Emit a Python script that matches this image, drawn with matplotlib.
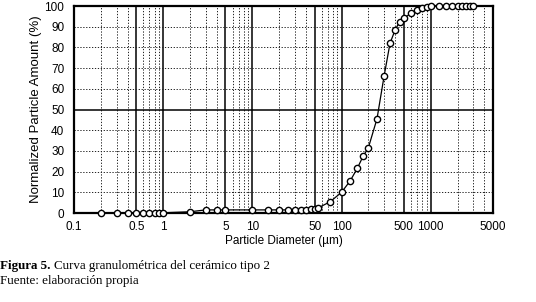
import matplotlib
matplotlib.use("Agg")
import matplotlib.pyplot as plt
import numpy as np

# Data
diameter_um = [0.2, 0.3, 0.4, 0.5, 0.6, 0.7, 0.8, 0.9, 1.0,
               2, 3, 4, 5, 10, 15, 20, 25, 30, 35, 40, 45, 50, 55,
               75, 100, 125, 150, 175, 200, 250, 300, 350, 400, 450, 500,
               600, 700, 800, 900, 1000, 1250, 1500, 1750, 2000, 2250,
               2500, 2750, 3000]
amount_pct = [0.1, 0.1, 0.1, 0.1, 0.1, 0.1, 0.1, 0.1, 0.1,
              0.6, 1.5, 1.5, 1.5, 1.5, 1.5, 1.5, 1.5, 1.5, 1.5, 1.6, 1.7, 2.0, 2.5,
              5.5, 10.0, 15.5, 21.5, 27.5, 31.5, 45.5, 66.0, 82.0, 88.5, 92.5, 94.0,
              96.5, 98.0, 99.0, 99.5, 99.8, 100.0, 100.0, 100.0, 100.0, 100.0,
              100.0, 100.0, 100.0]

x_tick_values = [0.1, 0.5, 1, 5, 10, 50, 100, 500, 1000, 5000]
x_tick_labels = ["0.1", "0.5", "1", "5", "10", "50", "100", "500", "1000", "5000"]
y_tick_values = list(range(0, 101, 10))

W, H = 536, 302
fig = plt.figure(figsize=(W / 100, H / 100), dpi=100)
L, R, T, B = 74, 493, 6, 213
ax = fig.add_axes([L / W, 1 - B / H, (R - L) / W, (B - T) / H])

ax.set_xscale("log")
ax.set_xlim(0.1, 5000)
ax.set_ylim(0, 100)

# grid: solid at 1/5 multiples, dotted at others
solid_x = [0.5, 1, 5, 10, 50, 100, 500, 1000]
dotted_x = []
for dec in [0.1, 1, 10, 100, 1000]:
    for m in [2, 3, 4, 6, 7, 8, 9]:
        v = m * dec
        if 0.1 < v < 5000:
            dotted_x.append(v)
dot_style = dict(color="#222222", lw=0.7, ls=(0, (1.3, 1.7)), zorder=1)
for v in solid_x:
    ax.axvline(v, color="black", lw=1.1, zorder=1)
for v in dotted_x:
    ax.axvline(v, **dot_style)
for v in range(10, 100, 10):
    if v == 50:
        ax.axhline(v, color="black", lw=1.1, zorder=1)
    else:
        ax.axhline(v, **dot_style)

ax.plot(diameter_um, amount_pct, color="black", lw=0.9, marker="o", ms=4.5,
        mfc="white", mec="black", mew=1.0, zorder=3, clip_on=False)

for s in ax.spines.values():
    s.set_linewidth(1.6)
    s.set_color("black")

ax.set_xticks(x_tick_values)
ax.set_xticklabels(x_tick_labels)
ax.xaxis.set_minor_locator(matplotlib.ticker.NullLocator())
ax.set_yticks(y_tick_values)
ax.tick_params(axis="both", length=0, labelsize=8.5)
ax.tick_params(axis="x", pad=6)
ax.tick_params(axis="y", pad=7)
for lab in ax.get_xticklabels() + ax.get_yticklabels():
    lab.set_fontfamily("Liberation Sans")

ax.set_xlabel("Particle Diameter (µm)", fontsize=8.5, family="Liberation Sans", labelpad=1)
ax.set_ylabel("Normalized Particle Amount (%)", fontsize=9.5, family="Liberation Sans", labelpad=2)

cap_size = 9.4
y1 = 1 - 266 / H
t1 = fig.text(0.0, y1, "Figura 5.", fontsize=cap_size, family="Liberation Serif",
              fontweight="bold", va="center", ha="left")
fig.canvas.draw()
bb = t1.get_window_extent(renderer=fig.canvas.get_renderer())
fig.text((bb.x1 + 3) / W, y1, "Curva granulométrica del cerámico tipo 2", fontsize=cap_size,
         family="Liberation Serif", va="center", ha="left")
fig.text(0.0, 1 - 281 / H, "Fuente: elaboración propia", fontsize=cap_size,
         family="Liberation Serif", va="center", ha="left")

fig.savefig("out.png", dpi=100)
